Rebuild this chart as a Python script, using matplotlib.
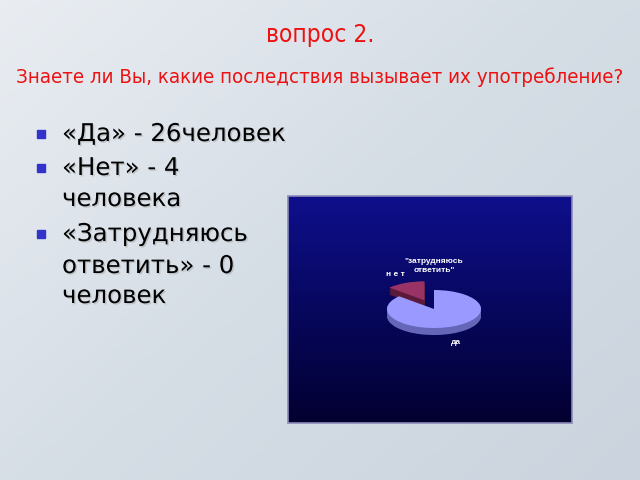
import numpy as np
import matplotlib
matplotlib.use("Agg")
import matplotlib.pyplot as plt
from matplotlib.colors import LinearSegmentedColormap
from matplotlib.patches import Rectangle
import matplotlib.patheffects as pe
from matplotlib import font_manager as fm

# ---- data ----
title_lines = ["вопрос 2.", "Знаете ли Вы, какие последствия вызывает их употребление?"]
bullet_items = [["«Да» - 26человек"],
                ["«Нет» - 4", "человека"],
                ["«Затрудняюсь", "ответить» - 0", "человек"]]
categories = ["да", "н е т", "\"затрудняюсь\nответить\""]
values = [26, 4, 0]

# ---- style ----
top_colors = ["#9999ff", "#993366", "#ffffcc"]
side_colors = ["#6666b8", "#5c1a3a", "#999977"]
explode = [0.0, 0.5, 0.0]
W, H = 640, 480

fig = plt.figure(figsize=(6.4, 4.8), dpi=100)
renderer = fig.canvas.get_renderer()

# slide background
bg = fig.add_axes([0, 0, 1, 1])
bg.set_xlim(0, W); bg.set_ylim(H, 0); bg.axis("off")
yy, xx = np.mgrid[0:1:120j, 0:1:160j]
grad = np.clip(xx * 0.55 + yy * 0.45, 0, 1)
bg_cmap = LinearSegmentedColormap.from_list("bg", ["#e9edf2", "#d5dde5", "#cbd4de"])
bg.imshow(grad, cmap=bg_cmap, extent=[0, W, H, 0], aspect="auto", zorder=0)

# title font: pick a narrow face if one is installed
def _is_narrow(e):
    s = e.stretch
    nm = (e.name + " " + e.fname).lower()
    if "condensed" in nm or "narrow" in nm:
        return True
    if isinstance(s, str):
        return "condensed" in s
    return isinstance(s, (int, float)) and s < 500

narrow = [e for e in fm.fontManager.ttflist
          if _is_narrow(e) and e.style == "normal"
          and ("mono" not in e.name.lower()) and ("serif" not in e.name.lower() or "sans" in e.name.lower())
          and ("cjk" not in e.name.lower())]
def _wscore(e):
    w = e.weight if isinstance(e.weight, (int, float)) else {"normal": 400, "regular": 400, "book": 400}.get(str(e.weight), 700)
    nm = e.fname.lower()
    extra = 0 if ("semi" not in nm and "extra" not in nm and "ultra" not in nm) else 50
    return abs(w - 400) + extra
narrow.sort(key=_wscore)
if narrow:
    title_fp = fm.FontProperties(fname=narrow[0].fname)
else:
    title_fp = fm.FontProperties(family="Liberation Sans")

def fitted_text(y, s, target_w, max_fs):
    t = fig.text(0.5, 1 - y / H, s, ha="center", va="center",
                 color="#ee1111", fontproperties=title_fp)
    t.set_fontsize(25)
    wpx = t.get_window_extent(renderer).width
    t.set_fontsize(min(max_fs, 25 * target_w / wpx))
    return t

fitted_text(77, title_lines[1], 610, 27)
fitted_text(35, title_lines[0], 108, 27)

# bullets
line_y = [134, 168, 199, 234, 266, 296]
shadow = [pe.withSimplePatchShadow(offset=(1.0, -1.0), shadow_rgbFace="#8a8a8a", alpha=0.35)]
k = 0
for item in bullet_items:
    bg.add_patch(Rectangle((37, line_y[k] - 4), 8, 8, color="#3333cc", zorder=2))
    for line in item:
        bg.text(62, line_y[k], line, ha="left", va="center", fontsize=17.6,
                family="DejaVu Sans", color="black", path_effects=shadow, zorder=3)
        k += 1

# chart box
bx0, by0, bx1, by1 = 288, 196, 572, 423
box = fig.add_axes([bx0 / W, 1 - by1 / H, (bx1 - bx0) / W, (by1 - by0) / H])
box.axis("off")
box_cmap = LinearSegmentedColormap.from_list("box", ["#0f0f8c", "#07075e", "#030030"])
box.imshow(np.linspace(0, 1, 200).reshape(-1, 1), cmap=box_cmap, aspect="auto",
           extent=[0, 1, 0, 1])
box.set_xlim(0, 1); box.set_ylim(0, 1)
box.add_patch(Rectangle((0, 0), 1, 1, fill=False, edgecolor="#8a8ab8", lw=1.2,
                        transform=box.transAxes, clip_on=False))

# pie (squashed to look tilted)
cx, cy = 434, 309           # centre in pixels
rx, ry = 47, 19             # radius in pixels (x, y)
xr, yr = 2.5, 3.0
pax = fig.add_axes([(cx - xr * rx) / W, 1 - (cy + yr * ry) / H,
                    2 * xr * rx / W, 2 * yr * ry / H])
depth = 0.37
nlayers = 10
for i in range(nlayers, 0, -1):
    pax.pie(values, colors=side_colors, startangle=90, counterclock=False,
            explode=explode, center=(0, -depth * i / nlayers),
            wedgeprops=dict(linewidth=0))
wedges, _ = pax.pie(values, colors=top_colors, startangle=90, counterclock=False,
                    explode=explode, wedgeprops=dict(linewidth=0))
pax.set_aspect("auto")
pax.set_xlim(-xr, xr); pax.set_ylim(-yr, yr)
pax.axis("off")
pax.patch.set_alpha(0)

label_r = [1.15, 1.5, 1.85]
label_va = ["top", "center", "bottom"]
for w, lab, r, va, ex in zip(wedges, categories, label_r, label_va, explode):
    ang = np.deg2rad((w.theta1 + w.theta2) / 2)
    x = (ex + r) * np.cos(ang)
    y = (ex + r) * np.sin(ang)
    if va == "top":
        y -= depth + 0.15
    pax.text(x, y, lab, ha="center", va=va, color="white", fontsize=6,
             fontweight="bold", family="Liberation Sans", linespacing=1.4)

fig.savefig("out.png", dpi=100)
